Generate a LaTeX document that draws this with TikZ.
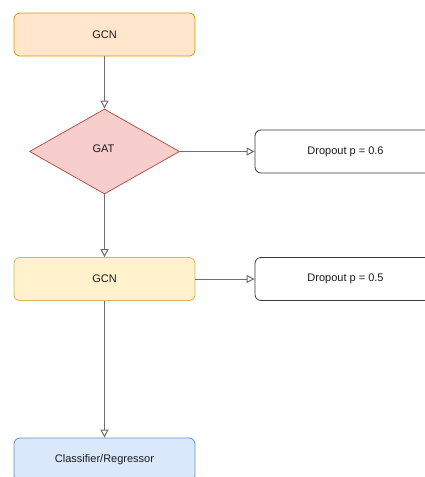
\documentclass[tikz,border=0pt]{standalone}
\usepackage{fontspec}
\setmainfont{Liberation Sans}
\usetikzlibrary{shapes.geometric,arrows.meta}

\definecolor{orangefill}{HTML}{FFE6CC}
\definecolor{orangeline}{HTML}{D79B00}
\definecolor{redfill}{HTML}{F8CECC}
\definecolor{redline}{HTML}{B85450}
\definecolor{yellowfill}{HTML}{FFF2CC}
\definecolor{yellowline}{HTML}{D6B656}
\definecolor{bluefill}{HTML}{DAE8FC}
\definecolor{blueline}{HTML}{6C8EBF}
\definecolor{boxline}{HTML}{36393D}
\definecolor{wire}{HTML}{6E6E6E}
\definecolor{ink}{HTML}{1A1A1A}

\tikzset{
  block/.style={rectangle, rounded corners=6pt, minimum width=181pt, minimum height=43pt,
    line width=0.8pt, inner sep=0pt, text=ink, font=\fontsize{11}{13}\selectfont},
  layer/.style={block},
  dropbox/.style={block, draw=boxline, fill=white},
  gate/.style={diamond, aspect=1.76, minimum width=150pt, minimum height=85pt, inner sep=0pt,
    line width=0.8pt},
  flow/.style={draw=wire, line width=1pt,
    -{Triangle[open, length=8pt, width=8pt, fill=white]}},
}

\begin{document}
\begin{tikzpicture}[x=1pt, y=-1pt]
  \useasboundingbox (0,0) rectangle (425,477);
  \clip (0,0) rectangle (425,477);

  \node[layer, draw=orangeline, fill=orangefill] (gcn1) at (104.5,34.5) {GCN};
  \node[gate, draw=redline, fill=redfill] (gat) at (104.5,151.5) {};
  \node[text=ink, font=\fontsize{11}{13}\selectfont] (gatlabel) at (103.5,149) {GAT};
  \node[dropbox] (drop1) at (345.5,151.5) {Dropout p = 0.6};
  \node[layer, draw=yellowline, fill=yellowfill] (gcn2) at (104.5,279) {GCN};
  \node[dropbox] (drop2) at (345.5,279) {Dropout p = 0.5};
  \node[layer, draw=blueline, fill=bluefill] (cls) at (104.5,459.5) {Classifier/Regressor};

  \draw[flow] (gcn1.south) -- (gat.north);
  \draw[flow] (gat.east) -- (drop1.west);
  \draw[flow] (gat.south) -- (gcn2.north);
  \draw[flow] (gcn2.east) -- (drop2.west);
  \draw[flow] (gcn2.south) -- (cls.north);
\end{tikzpicture}
\end{document}
